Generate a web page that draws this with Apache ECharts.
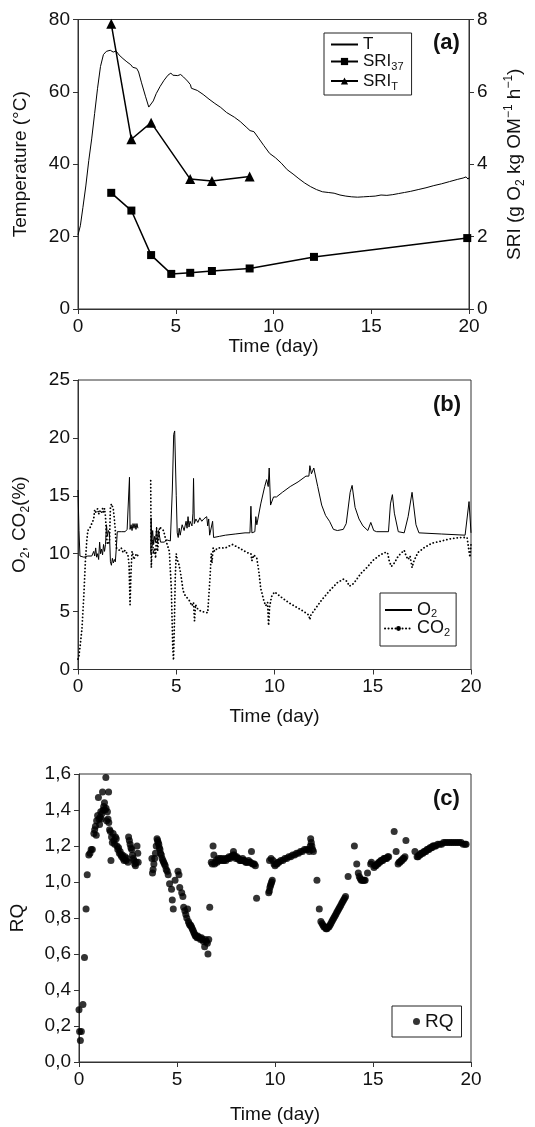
<!DOCTYPE html>
<html><head><meta charset="utf-8">
<script src="https://cdn.jsdelivr.net/npm/echarts@6/dist/echarts.min.js"></script>
<style>html,body{margin:0;padding:0;background:#fff}#c{width:535px;height:1127px}</style>
</head><body><div id="c"></div>
<script>
// ---------- Panel (a) ----------
const tDay = [0,0.12,0.25,0.4,0.55,0.7,0.85,1.0,1.15,1.3,1.45,1.65,1.8,1.95,2.1,2.3,2.5,2.7,2.8,2.9,3.0,3.1,3.25,3.45,3.62,3.72,3.85,4.0,4.2,4.4,4.6,4.75,4.85,4.95,5.1,5.25,5.4,5.6,5.75,5.8,5.9,6.1,6.4,6.7,7.0,7.3,7.6,8.0,8.3,8.6,8.8,8.9,9.0,9.2,9.5,9.8,10.1,10.4,10.7,11.0,11.3,11.6,11.9,12.2,12.5,12.8,13.1,13.4,13.7,14.0,14.3,14.6,14.9,15.2,15.5,15.8,16.1,16.4,16.7,17.0,17.4,17.8,18.2,18.6,19.0,19.4,19.7,19.85,19.95,20.0];
const tVal = [20.5,23,28,34,41,47,54,61,67,70.3,71.2,71.5,71.0,71.3,70.2,69.2,68.3,67.5,66.8,67.0,66.5,65.5,62.5,58.8,55.8,55.5,57.5,59.5,61.5,63.2,64.6,65.2,64.6,64.9,64.5,64.8,64.1,63.0,62.0,61.0,60.9,60.4,59.3,58.0,56.8,55.7,54.3,53.0,51.8,50.3,49.3,49.7,49.0,47.5,45.2,43.0,41.8,40.3,38.5,37.3,36.0,34.8,33.8,33.0,32.4,32.2,32.0,31.5,31.2,31.0,30.9,31.0,31.1,31.2,31.5,31.4,31.6,31.9,32.2,32.5,33.0,33.5,34.1,34.6,35.2,35.8,36.2,36.5,35.9,36.3];
const sri37Day = [1.7,2.73,3.74,4.77,5.74,6.85,8.78,12.07,19.91];
const sri37Val = [3.21,2.72,1.49,0.97,1.0,1.05,1.12,1.44,1.96];
const sriTDay = [1.7,2.73,3.74,5.74,6.85,8.78];
const sriTVal = [7.88,4.69,5.15,3.59,3.54,3.66];

// ---------- Panel (b) ----------
const o2Day = [0.0,0.05,0.1,0.3,0.5,0.7,0.8,0.85,0.9,0.95,1.0,1.05,1.1,1.15,1.2,1.25,1.3,1.35,1.4,1.45,1.5,1.55,1.6,1.65,1.7,1.75,1.8,1.85,1.9,1.95,2.0,2.1,2.2,2.3,2.4,2.5,2.6,2.62,2.65,2.7,2.75,2.8,2.85,2.9,2.95,3.0,3.05,3.4,3.7,3.72,3.75,3.8,3.85,3.9,3.95,4.0,4.05,4.1,4.2,4.3,4.4,4.5,4.6,4.7,4.8,4.87,4.92,5.0,5.05,5.1,5.15,5.2,5.3,5.4,5.5,5.55,5.6,5.65,5.7,5.8,5.85,5.88,5.92,6.0,6.1,6.2,6.3,6.4,6.5,6.55,6.6,6.65,6.7,6.75,6.85,6.9,7.0,7.2,7.5,8.0,8.5,8.75,8.8,8.85,9.0,9.05,9.1,9.3,9.5,9.6,9.68,9.73,9.8,9.9,9.95,10.1,10.4,10.8,11.2,11.6,11.75,11.8,11.88,11.95,12.0,12.2,12.4,12.6,12.8,13.0,13.2,13.5,13.65,13.85,13.95,14.1,14.3,14.5,14.75,14.9,15.05,15.2,15.8,15.9,16.0,16.1,16.3,16.6,16.8,17.0,17.2,17.35,18.5,19.7,19.9,20.0];
const o2Val = [15.5,12,9.8,9.7,9.8,9.8,10.2,9.8,10.5,9.7,10.0,9.5,11.0,10.0,10.4,9.9,10.8,10.2,10.8,12.5,11.5,12.0,11.8,9.3,9.0,9.6,9.2,9.5,9.3,10.5,11.9,11.8,11.9,12.0,11.9,12.1,12.0,16.6,12.1,12.5,12.0,12.6,12.2,12.6,12.1,12.6,12.2,null,10.0,13.1,11.0,12.0,10.8,11.5,11.0,12.3,10.9,12.0,11.0,10.9,11.0,11.2,11.3,11.1,15.5,20.3,20.6,15.0,11.8,11.4,12.2,11.6,12.5,12.0,12.8,12.2,13.2,12.3,12.8,12.4,13.5,16.5,12.6,13.0,12.7,13.1,12.8,13.0,12.9,13.2,12.4,13.0,11.6,11.5,12.8,11.4,11.5,11.5,11.6,11.7,11.8,11.8,14.1,11.8,11.9,13.2,12.5,14.3,15.8,16.4,15.8,17.4,14.2,14.3,14.9,14.9,15.3,15.8,16.2,16.7,16.7,17.6,16.9,17.0,17.4,15.8,14.2,13.3,12.8,12.1,12.0,12.1,12.6,15.3,15.9,14.0,13.0,12.4,12.0,12.7,12.0,11.9,11.9,14.3,15.1,13.5,11.9,11.8,13.2,15.3,12.5,11.8,11.7,11.6,14.5,11.8];
const co2Day = [0.0,0.05,0.1,0.2,0.3,0.38,0.45,0.5,0.6,0.7,0.8,0.85,0.9,1.0,1.05,1.1,1.2,1.25,1.3,1.35,1.4,1.45,1.5,1.6,1.65,1.7,1.75,1.8,1.85,1.9,1.95,2.0,2.1,2.2,2.3,2.4,2.5,2.55,2.6,2.65,2.7,2.75,2.8,2.85,2.9,2.95,3.0,3.05,3.4,3.7,3.73,3.78,3.85,3.9,3.95,4.0,4.05,4.15,4.25,4.35,4.5,4.65,4.75,4.82,4.86,4.9,4.95,5.0,5.05,5.15,5.25,5.35,5.45,5.55,5.65,5.75,5.8,5.88,5.93,5.98,6.1,6.3,6.6,6.72,6.78,6.82,6.88,6.95,7.1,7.5,7.85,8.2,8.6,8.8,8.85,8.95,9.1,9.2,9.3,9.45,9.55,9.65,9.7,9.75,9.85,10.0,10.3,10.7,11.1,11.5,11.75,11.8,11.85,12.1,12.4,12.8,13.2,13.5,13.7,13.8,13.95,14.1,14.4,14.7,15.0,15.3,15.6,15.75,15.85,15.95,16.1,16.3,16.6,16.7,16.8,16.9,17.0,17.1,17.3,17.6,18.0,18.5,19.0,19.5,19.8,19.9,19.95,20.0];
const co2Val = [0.9,1.2,1.9,3.5,6.5,9.5,11.2,12.0,12.2,12.1,13.0,13.8,13.6,13.9,13.4,13.7,13.5,13.9,13.6,13.9,13.2,11.5,10.8,11.0,14.0,14.3,14.1,13.8,13.0,12.0,10.5,10.4,10.3,10.5,10.1,10.3,10.0,9.8,9.0,5.6,8.5,10.2,9.9,9.5,9.8,9.7,10.0,9.8,null,16.3,8.8,11.2,10.0,10.5,9.6,12.2,10.2,12.3,12.4,12.0,11.0,10.2,7.0,2.0,0.8,3.5,8.0,10.0,9.5,9.0,8.0,6.8,6.4,6.2,6.0,6.0,5.5,5.8,4.2,5.6,5.2,5.0,4.9,8.0,10.0,9.2,10.5,10.2,10.5,10.5,10.8,10.5,10.1,10.0,9.4,9.9,9.6,8.5,7.0,6.0,5.5,5.8,3.8,5.4,6.3,6.7,6.3,5.8,5.4,5.0,4.7,4.3,4.7,5.3,6.0,6.8,7.5,7.8,7.6,7.2,7.3,7.6,8.3,8.8,9.4,9.8,10.1,10.1,9.3,8.9,9.2,9.8,10.3,9.8,9.5,9.8,8.8,9.4,10.1,10.5,10.9,11.1,11.3,11.4,11.4,10.2,9.7,10.8];

// ---------- Panel (c) ----------
const rqDay = [0.0,0.03,0.07,0.12,0.2,0.28,0.36,0.42,0.5,0.56,0.62,0.68,0.76,0.8,0.84,0.88,0.9,0.95,0.99,1.02,1.05,1.08,1.11,1.14,1.17,1.2,1.23,1.26,1.3,1.33,1.37,1.38,1.41,1.45,1.48,1.51,1.52,1.56,1.6,1.63,1.66,1.7,1.74,1.78,1.82,1.86,1.9,1.94,1.98,2.02,2.06,2.1,2.14,2.18,2.22,2.26,2.3,2.35,2.4,2.45,2.5,2.53,2.57,2.61,2.65,2.69,2.73,2.77,2.8,2.84,2.88,2.92,2.96,3.0,3.02,
3.72,3.75,3.78,3.82,3.86,3.9,3.94,3.98,4.01,4.04,4.07,4.1,4.13,4.16,4.2,4.24,4.28,4.32,4.36,4.4,4.45,4.5,4.55,4.62,4.72,4.76,4.81,4.9,5.05,5.1,5.14,5.24,5.3,5.34,5.4,5.45,5.5,5.54,5.58,5.62,5.66,5.7,5.74,5.78,5.82,5.86,5.9,5.94,5.98,6.02,6.06,6.1,6.15,6.2,6.25,6.3,6.35,6.41,6.45,6.5,6.55,6.58,6.62,6.67,
6.75,6.8,6.84,6.88,6.92,6.96,7.0,7.05,7.1,7.15,7.2,7.25,7.3,7.35,7.4,7.45,7.5,7.55,7.6,7.65,7.7,7.75,7.8,7.85,7.88,7.92,7.96,8.0,8.05,8.1,8.15,8.2,8.25,8.3,8.35,8.4,8.45,8.5,8.55,8.6,8.65,8.7,8.75,8.8,8.85,8.9,8.95,9.0,9.06,
9.68,9.71,9.74,9.77,9.8,9.83,9.86,9.72,9.8,9.9,9.95,10.0,10.05,10.1,10.15,10.2,10.3,10.4,10.5,10.6,10.7,10.8,10.9,11.0,11.1,11.2,11.3,11.4,11.5,11.6,11.7,11.75,11.8,11.82,11.85,11.88,11.92,11.96,
12.14,12.26,12.34,12.4,12.45,12.5,12.55,12.6,12.65,12.7,12.75,12.8,12.85,12.9,12.95,13.0,13.05,13.1,13.15,13.2,13.25,13.3,13.35,13.4,13.45,13.5,13.55,13.6,13.73,
14.05,14.17,14.25,14.3,14.35,14.4,14.45,14.5,14.55,14.6,14.72,14.88,14.92,15.05,15.1,15.15,15.2,15.25,15.3,15.35,15.4,15.45,15.5,15.55,15.6,15.65,15.7,15.75,15.8,16.08,16.18,16.28,16.33,16.38,16.43,16.48,16.53,16.58,16.63,16.68,17.14,
17.25,17.3,17.35,17.4,17.45,17.5,17.55,17.6,17.65,17.7,17.75,17.8,17.85,17.9,17.95,18.0,18.05,18.1,18.15,18.2,18.3,18.4,18.5,18.6,18.7,18.8,18.9,19.0,19.1,19.2,19.3,19.4,19.5,19.6,19.7,19.75];
const rqVal = [0.29,0.17,0.12,0.17,0.32,0.58,0.85,1.04,1.15,1.16,1.18,1.18,1.27,1.29,1.31,1.26,1.34,1.37,1.47,1.35,1.32,1.36,1.39,1.35,1.38,1.50,1.40,1.42,1.44,1.40,1.58,1.41,1.34,1.39,1.35,1.50,1.33,1.29,1.28,1.12,1.25,1.22,1.27,1.23,1.21,1.25,1.24,1.20,1.18,1.19,1.16,1.17,1.15,1.14,1.15,1.13,1.12,1.14,1.12,1.13,1.11,1.25,1.23,1.21,1.19,1.18,1.15,1.13,1.12,1.10,1.09,1.11,1.20,1.16,1.11,
1.13,1.05,1.07,1.10,1.13,1.16,1.20,1.24,1.23,1.22,1.21,1.19,1.18,1.16,1.15,1.13,1.12,1.11,1.10,1.09,1.07,1.06,1.04,0.99,0.96,0.90,0.85,1.01,1.06,1.04,0.97,0.94,0.92,0.86,0.84,0.82,0.80,0.85,0.78,0.77,0.76,0.76,0.75,0.74,0.73,0.72,0.71,0.70,0.70,0.69,0.70,0.69,0.69,0.68,0.69,0.68,0.67,0.64,0.68,0.67,0.66,0.60,0.68,0.86,
1.11,1.10,1.20,1.15,1.10,1.11,1.12,1.11,1.13,1.12,1.13,1.12,1.13,1.12,1.12,1.13,1.12,1.13,1.13,1.14,1.13,1.14,1.14,1.15,1.17,1.15,1.14,1.13,1.14,1.13,1.13,1.12,1.12,1.12,1.13,1.12,1.12,1.11,1.11,1.11,1.12,1.11,1.11,1.17,1.10,1.10,1.10,1.09,0.91,
0.94,0.95,0.97,0.98,0.99,1.00,1.01,1.12,1.13,1.12,1.10,1.09,1.10,1.10,1.11,1.11,1.12,1.12,1.13,1.13,1.14,1.14,1.15,1.15,1.16,1.16,1.17,1.17,1.18,1.18,1.18,1.17,1.20,1.24,1.22,1.20,1.18,1.17,
1.01,0.85,0.78,0.77,0.76,0.75,0.75,0.74,0.74,0.75,0.75,0.76,0.77,0.78,0.79,0.80,0.81,0.82,0.83,0.84,0.85,0.86,0.87,0.88,0.89,0.90,0.91,0.92,1.03,
1.20,1.10,1.05,1.03,1.02,1.01,1.01,1.01,1.01,1.01,1.05,1.10,1.11,1.08,1.09,1.09,1.10,1.10,1.11,1.11,1.12,1.12,1.12,1.13,1.13,1.13,1.13,1.14,1.14,1.28,1.17,1.10,1.11,1.11,1.12,1.12,1.13,1.13,1.14,1.23,1.17,
1.14,1.14,1.15,1.15,1.16,1.16,1.16,1.17,1.17,1.17,1.18,1.18,1.18,1.19,1.19,1.19,1.20,1.20,1.20,1.20,1.21,1.21,1.21,1.22,1.22,1.22,1.22,1.22,1.22,1.22,1.22,1.22,1.22,1.21,1.21,1.21];

const xTicks = {min: 0, max: 20, interval: 5};

function pairs(xs, ys) { return xs.map((x, i) => [x, ys[i] === null ? '-' : ys[i]]); }

const FONT = '"Liberation Sans", Arial, sans-serif';
const INK = '#111';
const AX = '#333';
const FS = 19;
const HIDE = {color: 'rgba(0,0,0,0)', borderColor: 'rgba(0,0,0,0)', borderWidth: 0};

function axisBase(extra) {
  return Object.assign({
    type: 'value',
    axisLine: {show: true, onZero: false, lineStyle: {color: AX, width: 1}},
    axisTick: {show: true, length: 5, lineStyle: {color: AX, width: 1}},
    splitLine: {show: false},
    axisLabel: {color: INK, fontSize: FS, fontFamily: FONT, margin: 8},
    nameTextStyle: {color: INK, fontSize: FS, fontFamily: FONT},
    nameLocation: 'middle'
  }, extra);
}

const subRich = {
  n: {fontSize: 17, lineHeight: 22, fontFamily: FONT, color: INK},
  s: {fontSize: 11, lineHeight: 11, verticalAlign: 'bottom', fontFamily: FONT, color: INK}
};

const chart = echarts.init(document.getElementById('c'), null, {renderer: 'canvas'});
chart.setOption({
  animation: false,
  backgroundColor: '#fff',
  textStyle: {fontFamily: FONT},
  title: [
    {text: '(a)', left: 428, top: 27, textStyle: {fontSize: 22, fontWeight: 'bold', color: INK, fontFamily: FONT}},
    {text: '(b)', left: 428, top: 389, textStyle: {fontSize: 22, fontWeight: 'bold', color: INK, fontFamily: FONT}},
    {text: '(c)', left: 428, top: 783, textStyle: {fontSize: 22, fontWeight: 'bold', color: INK, fontFamily: FONT}}
  ],
  grid: [
    {left: 78, top: 19.5, width: 393, height: 289.5, show: true, borderColor: AX, borderWidth: 1, backgroundColor: 'transparent'},
    {left: 78, top: 380, width: 393, height: 289.5, show: true, borderColor: AX, borderWidth: 1, backgroundColor: 'transparent'},
    {left: 78, top: 774, width: 393, height: 288, show: true, borderColor: AX, borderWidth: 1, backgroundColor: 'transparent'}
  ],
  legend: [
    {
      data: [{name: 'T', itemStyle: HIDE}, 'SRI37', 'SRIT'], orient: 'vertical', left: 324, top: 33,
      padding: [3, 8, 3, 6], itemGap: 0, itemWidth: 27, itemHeight: 9,
      borderColor: '#222', borderWidth: 1, backgroundColor: '#fff',
      textStyle: {rich: subRich},
      formatter: n => n === 'T' ? '{n|T}' : (n === 'SRI37' ? '{n|SRI}{s|37}' : '{n|SRI}{s|T}')
    },
    {
      data: [{name: 'O2', itemStyle: HIDE}, 'CO2'], orient: 'vertical', left: 380, top: 593,
      padding: [8, 6, 8, 4], itemGap: 0, itemWidth: 27, itemHeight: 6,
      borderColor: '#222', borderWidth: 1, backgroundColor: '#fff',
      textStyle: {rich: {n: {fontSize: 18, lineHeight: 19, fontFamily: FONT, color: INK}, s: {fontSize: 11, lineHeight: 11, verticalAlign: 'bottom', fontFamily: FONT, color: INK}}},
      formatter: n => n === 'O2' ? '{n|O}{s|2}' : '{n|CO}{s|2}'
    },
    {
      data: ['RQ'], orient: 'vertical', left: 392, top: 1006,
      padding: [6, 8, 6, 21], itemWidth: 7, itemHeight: 7,
      borderColor: '#222', borderWidth: 1, backgroundColor: '#fff',
      textStyle: {fontSize: FS, color: INK, fontFamily: FONT}
    }
  ],
  xAxis: [
    axisBase(Object.assign({gridIndex: 0, name: 'Time (day)', nameGap: 28}, xTicks)),
    axisBase(Object.assign({gridIndex: 1, name: 'Time (day)', nameGap: 38}, xTicks)),
    axisBase(Object.assign({gridIndex: 2, name: 'Time (day)', nameGap: 43}, xTicks))
  ],
  yAxis: [
    axisBase({gridIndex: 0, min: 0, max: 80, interval: 20, name: 'Temperature (°C)', nameGap: 48}),
    axisBase({gridIndex: 0, position: 'right', min: 0, max: 8, interval: 2, nameRotate: 90, nameGap: 34,
      name: '{n|SRI (g O}{s|2}{n| kg OM}{p|−1}{n| h}{p|−1}{n|)}',
      nameTextStyle: {color: INK, fontFamily: FONT, rich: {
        n: {fontSize: FS, lineHeight: 24, fontFamily: FONT, color: INK},
        s: {fontSize: 12, lineHeight: 12, verticalAlign: 'bottom', fontFamily: FONT, color: INK},
        p: {fontSize: 12, lineHeight: 12, verticalAlign: 'top', fontFamily: FONT, color: INK}
      }}}),
    axisBase({gridIndex: 1, min: 0, max: 25, interval: 5, nameGap: 46,
      name: '{n|O}{s|2}{n|, CO}{s|2}{n|(%)}',
      nameTextStyle: {color: INK, fontFamily: FONT, rich: {
        n: {fontSize: FS, lineHeight: 24, fontFamily: FONT, color: INK},
        s: {fontSize: 12, lineHeight: 12, verticalAlign: 'bottom', fontFamily: FONT, color: INK}
      }}}),
    axisBase({gridIndex: 2, min: 0, max: 1.6, interval: 0.2, name: 'RQ', nameGap: 52,
      axisLabel: {color: INK, fontSize: FS, fontFamily: FONT, margin: 8, formatter: v => v.toFixed(1).replace('.', ',')}})
  ],
  series: [
    {name: 'T', type: 'line', xAxisIndex: 0, yAxisIndex: 0, data: pairs(tDay, tVal), showSymbol: false, symbol: 'none',
      lineStyle: {color: '#000', width: 1}, itemStyle: {color: '#000'}, silent: true},
    {name: 'SRI37', type: 'line', xAxisIndex: 0, yAxisIndex: 1, data: pairs(sri37Day, sri37Val), symbol: 'rect', symbolSize: 8,
      lineStyle: {color: '#000', width: 1.5}, itemStyle: {color: '#000'}, silent: true},
    {name: 'SRIT', type: 'line', xAxisIndex: 0, yAxisIndex: 1, data: pairs(sriTDay, sriTVal), symbol: 'triangle', symbolSize: 10,
      lineStyle: {color: '#000', width: 1.5}, itemStyle: {color: '#000'}, silent: true},
    {name: 'O2', type: 'line', xAxisIndex: 1, yAxisIndex: 2, data: pairs(o2Day, o2Val), showSymbol: false, symbol: 'none', connectNulls: false,
      lineStyle: {color: '#000', width: 1}, itemStyle: {color: '#000'}, silent: true},
    {name: 'CO2', type: 'line', xAxisIndex: 1, yAxisIndex: 2, data: pairs(co2Day, co2Val), showSymbol: false, symbol: 'none', connectNulls: false,
      lineStyle: {color: '#000', width: 1.8, type: [0.1, 3.4], cap: 'round'}, itemStyle: {color: '#000'}, silent: true},
    {name: 'RQ', type: 'scatter', xAxisIndex: 2, yAxisIndex: 3, data: pairs(rqDay, rqVal), symbol: 'circle', symbolSize: 7,
      itemStyle: {color: '#000'}, silent: true}
  ]
});
</script>
</body></html>
